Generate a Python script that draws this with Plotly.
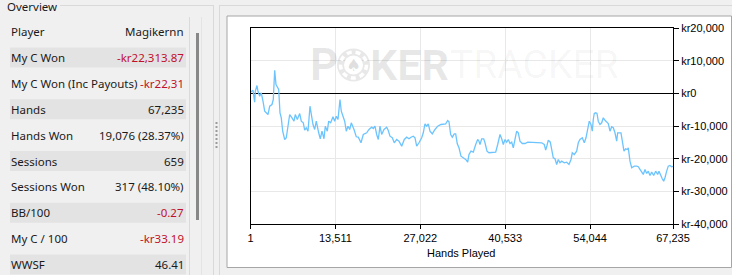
import plotly.graph_objects as go

W, H = 732, 275

# ---------------- data ----------------
hands = [1, 398, 668, 764, 1034, 1193, 1464, 1719, 1989, 2260, 2514, 2785, 3055, 3421, 3628, 3851, 4058, 4265, 4487, 4694,
         4901, 5124, 5442, 5697, 5967, 6238, 6604, 6922, 7129, 7447, 7829, 8084, 8402, 8625, 8879, 9150, 9468, 9675, 9946, 10216,
         10471, 10853, 11107, 11378, 11696, 11903, 12221, 12444, 12762, 13128, 13399, 13653, 13924, 14242, 14449, 14719, 14990, 15245, 15515, 15786,
         16040, 16470, 16836, 17154, 17584, 17950, 18491, 18857, 19286, 19541, 19811, 20082, 20337, 20607, 20878, 21244, 21674, 21928, 22199, 22565,
         22883, 23265, 23631, 24061, 24474, 24856, 25222, 25540, 25906, 26177, 26447, 26813, 27243, 27497, 27768, 28038, 28293, 28564, 28930, 29359,
         29789, 30314, 30680, 31062, 31380, 31587, 31857, 32112, 32430, 32653, 32907, 33178, 33496, 33863, 34245, 34563, 34770, 35088, 35454, 35836,
         36154, 36361, 36520, 36791, 37109, 37316, 37634, 37953, 38637, 39019, 39337, 39703, 39974, 40228, 40499, 40769, 41024, 41294, 41565, 41819,
         42090, 42360, 42615, 42886, 43251, 43681, 44111, 44747, 45543, 46338, 46752, 46975, 47182, 47389, 47707, 47930, 48184, 48455, 48725, 48980,
         49250, 49521, 49934, 50316, 50683, 51001, 51208, 51526, 51908, 52162, 52433, 52799, 53117, 53388, 53658, 53913, 54183, 54390, 54549, 54708,
         54931, 55138, 55345, 55615, 55886, 56140, 56411, 56681, 56936, 57206, 57477, 57731, 58002, 58272, 58431, 58956, 59163, 59434, 59704, 59959,
         60118, 60390, 60660, 61073, 61455, 61710, 61980, 62251, 62505, 62776, 63046, 63301, 63571, 63842, 64160, 64478, 64796, 65003, 65321, 65528,
         65751, 65958, 66228, 66483, 66754, 67024, 67235]
won = [400, 1010, -2665, 704, 2450, 704, -827, 214, -2358, -5421, -5911, -6432, -3890, -3369, -1838, 7137, 2757, 1746, 1225, -5912,
       -7443, -11548, -14090, -13569, -9495, -6432, -7443, -8485, -6432, -7964, -6126, -8485, -8975, -11241, -10506, -11548, -3890, -6432, -9495, -11027,
       -8485, -12037, -13875, -11548, -13875, -10016, -11548, -8485, -8975, -7137, -8485, -6953, -7964, -1838, -5421, -6953, -8485, -11548, -10016, -11027,
       -8975, -11027, -13262, -13385, -15100, -12558, -12037, -11027, -10322, -10720, -10016, -12558, -14090, -10016, -12558, -11027, -10322, -11333, -13079, -13569,
       -15100, -14090, -14611, -16142, -14090, -13385, -13875, -13385, -13079, -13569, -16142, -15100, -13569, -12037, -9281, -10016, -9281, -11548, -12344, -11027,
       -10016, -9495, -9495, -9281, -8270, -8668, -12558, -13385, -12344, -12344, -15407, -16632, -19205, -19695, -20216, -21043, -18684, -17673, -17979, -15621,
       -14090, -14611, -15621, -13875, -13875, -15100, -17673, -18163, -18163, -17979, -15621, -12558, -13875, -15621, -14090, -14917, -14090, -15315, -14917, -16632,
       -14090, -11548, -12037, -14611, -15315, -15315, -14917, -14917, -15100, -15100, -15621, -17367, -15927, -14304, -14917, -17673, -19695, -20001, -21747, -20216,
       -21227, -20737, -21227, -21043, -21747, -20216, -18163, -18684, -17673, -15100, -14090, -13569, -15100, -13569, -11027, -8485, -9495, -11548, -7964, -6126,
       -5911, -6126, -8485, -9495, -8975, -7443, -8178, -8791, -9189, -11548, -10200, -10506, -12037, -14611, -12037, -12037, -14611, -17673, -16939, -17153,
       -16632, -20737, -22758, -22268, -22268, -22452, -23279, -24290, -24810, -23279, -24504, -23800, -25117, -24106, -25117, -23800, -24810, -23800, -25515, -26127,
       -26862, -25821, -23800, -22268, -22054, -22452, -22314]

x_tickvals = [1, 13511, 27022, 40533, 54044, 67235]
x_ticktext = ["1", "13,511", "27,022", "40,533", "54,044", "67,235"]
y_tickvals = [20000, 10000, 0, -10000, -20000, -30000, -40000]
y_ticktext = ["kr20,000", "kr10,000", "kr0", "kr-10,000", "kr-20,000", "kr-30,000", "kr-40,000"]
x_title = "Hands Played"

stat_labels = ["Player", "My C Won", "My C Won (Inc Payouts)", "Hands", "Hands Won", "Sessions",
               "Sessions Won", "BB/100", "My C / 100", "WWSF"]
stat_values = ["Magikernn", "-kr22,313.87", "-kr22,31", "67,235", "19,076 (28.37%)", "659",
               "317 (48.10%)", "-0.27", "-kr33.19", "46.41"]
panel_title = "Overview"

# ---------------- helpers ----------------
def px(x):
    return x / W

def py(y):
    return 1 - y / H

shapes = []
annotations = []

def rect(x0, y0, x1, y1, fill, line=None, lw=0, layer="below"):
    shapes.append(dict(type="rect", xref="paper", yref="paper",
                       x0=px(x0), x1=px(x1), y0=py(y1), y1=py(y0),
                       fillcolor=fill, line=dict(color=line or fill, width=lw), layer=layer))

def hline(x0, x1, y, color):
    shapes.append(dict(type="line", xref="paper", yref="paper", x0=px(x0), x1=px(x1), y0=py(y), y1=py(y),
                       line=dict(color=color, width=1), layer="below"))

def vline(x, y0, y1, color):
    shapes.append(dict(type="line", xref="paper", yref="paper", x0=px(x), x1=px(x), y0=py(y0), y1=py(y1),
                       line=dict(color=color, width=1), layer="below"))

def text(x, y, s, size=11, color="#1a1a1a", anchor="left", family="Noto Sans"):
    annotations.append(dict(xref="paper", yref="paper", x=px(x), y=py(y), text=s, showarrow=False,
                            xanchor=anchor, yanchor="middle", borderpad=0,
                            font=dict(family=family, size=size, color=color)))

# ---------------- left panel ----------------
text(6, 6, panel_title, size=11.5)
hline(60, 213, 5.5, "#d9d9d9")
hline(219, 732, 5.5, "#d9d9d9")
vline(213.5, 5, 275, "#d9d9d9")
vline(219.5, 5, 275, "#d9d9d9")
vline(189.5, 17, 275, "#dadada")
vline(201.5, 17, 275, "#e4e4e4")
rect(196, 33, 199, 220, "#888888")
for k in range(7):
    rect(215.5, 122 + 4 * k, 217.5, 124 + 4 * k, "#9a9a9a")

row0, pitch = 31.5, 25.9
for i, (lab, val) in enumerate(zip(stat_labels, stat_values)):
    cy = row0 + pitch * i
    if i % 2 == 1:
        rect(10, cy - 10, 186, cy + 10, "#e3e3e3")
    text(10, cy, lab, size=11.5)
    col = "#c0102a" if val.startswith("-") else "#1a1a1a"
    text(185.5, cy, val, color=col, anchor="right", size=11.5)

# ---------------- chart box ----------------
rect(227, 16, 731.5, 267.5, "#ffffff", line="#a6a6a6", lw=1)

# watermark
wm = "rgba(0,0,0,0.09)"
wm2 = "rgba(0,0,0,0.045)"
text(309, 65, "<b>P</b>", size=44, color=wm, family="Roboto")
shapes.append(dict(type="circle", xref="paper", yref="paper", x0=px(337), x1=px(370), y0=py(81.5), y1=py(48.5),
                   fillcolor=wm, line=dict(width=0), layer="above"))
shapes.append(dict(type="circle", xref="paper", yref="paper", x0=px(340.5), x1=px(366.5), y0=py(78), y1=py(52),
                   fillcolor="rgba(0,0,0,0)", line=dict(color="white", width=3.5, dash="5px,4px"), layer="above"))
shapes.append(dict(type="circle", xref="paper", yref="paper", x0=px(344), x1=px(363), y0=py(74.5), y1=py(55.5),
                   fillcolor="white", line=dict(width=0), layer="above"))
text(353.5, 64.5, "♠", size=17, color="rgba(0,0,0,0.12)", anchor="center", family="DejaVu Sans")
text(369, 65, "<b>KER</b>", size=43, color=wm, family="Roboto")
text(449, 65, "TRACKER", size=39, color=wm2, family="Roboto")

# axis title
text(461.5, 253, x_title, size=11, color="#000000", anchor="center", family="Liberation Sans")

fig = go.Figure()
fig.add_trace(go.Scatter(x=hands, y=won, mode="lines", line=dict(color="#6cc4ff", width=1.3),
                         hoverinfo="skip", showlegend=False))

axis_font = dict(family="Liberation Sans", size=11, color="#000000")
fig.update_layout(
    width=W, height=H, autosize=False,
    margin=dict(l=0, r=0, t=0, b=0, autoexpand=False),
    paper_bgcolor="#f0f0f0", plot_bgcolor="#ffffff",
    shapes=shapes, annotations=annotations,
    xaxis=dict(domain=[px(250.5), px(673)], range=[1, 67235], automargin=False,
               tickvals=x_tickvals, ticktext=x_ticktext, tickfont=axis_font,
               showline=True, linecolor="#000000", linewidth=1, mirror=True,
               ticks="outside", ticklen=4, tickcolor="#000000",
               showgrid=True, gridcolor="#e8e8e8", gridwidth=1, zeroline=False, fixedrange=True),
    yaxis=dict(domain=[py(224), py(28.3)], range=[-40000, 20000], side="right", automargin=False,
               tickvals=y_tickvals, ticktext=y_ticktext, tickfont=axis_font,
               showline=True, linecolor="#000000", linewidth=1, mirror=True,
               ticks="outside", ticklen=5, tickcolor="#000000",
               showgrid=True, gridcolor="#e8e8e8", gridwidth=1,
               zeroline=True, zerolinecolor="#000000", zerolinewidth=1, fixedrange=True),
)

fig.write_html("out.html")
